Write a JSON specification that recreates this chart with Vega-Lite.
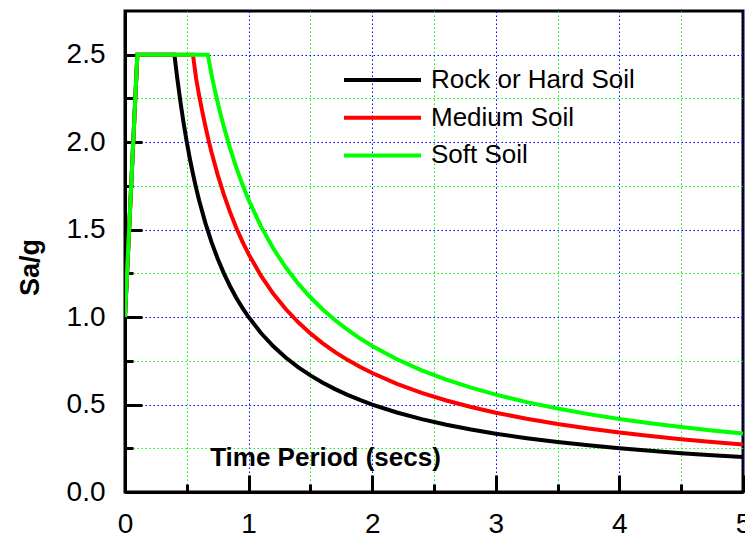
{
  "$schema": "https://vega.github.io/schema/vega-lite/v6.json",
  "width": 618,
  "height": 481,
  "autosize": {"type": "none"},
  "padding": {"left": 125, "top": 11, "right": 2, "bottom": 43},
  "background": "white",
  "config": {
    "font": "Liberation Sans",
    "view": {"stroke": "black", "strokeWidth": 3},
    "axis": {
      "domainColor": "black",
      "domainWidth": 3,
      "tickColor": "black",
      "tickWidth": 3,
      "labelFont": "Liberation Sans",
      "labelFontSize": 28,
      "labelColor": "black",
      "titleFont": "Liberation Sans",
      "titleColor": "black",
      "titleFontWeight": "bold",
      "grid": true,
      "gridWidth": 1,
      "gridDash": [1.5, 2.5],
      "labelFlush": false,
      "labelOverlap": false
    }
  },
  "data": {
    "values": [
      {"T": 0, "Sa": 1.0, "Soil": "Rock or Hard Soil"},
      {"T": 0.1, "Sa": 2.5, "Soil": "Rock or Hard Soil"},
      {"T": 0.4, "Sa": 2.5, "Soil": "Rock or Hard Soil"},
      {"T": 0.42, "Sa": 2.381, "Soil": "Rock or Hard Soil"},
      {"T": 0.45, "Sa": 2.2222, "Soil": "Rock or Hard Soil"},
      {"T": 0.475, "Sa": 2.1053, "Soil": "Rock or Hard Soil"},
      {"T": 0.5, "Sa": 2.0, "Soil": "Rock or Hard Soil"},
      {"T": 0.525, "Sa": 1.9048, "Soil": "Rock or Hard Soil"},
      {"T": 0.55, "Sa": 1.8182, "Soil": "Rock or Hard Soil"},
      {"T": 0.575, "Sa": 1.7391, "Soil": "Rock or Hard Soil"},
      {"T": 0.6, "Sa": 1.6667, "Soil": "Rock or Hard Soil"},
      {"T": 0.65, "Sa": 1.5385, "Soil": "Rock or Hard Soil"},
      {"T": 0.7, "Sa": 1.4286, "Soil": "Rock or Hard Soil"},
      {"T": 0.75, "Sa": 1.3333, "Soil": "Rock or Hard Soil"},
      {"T": 0.8, "Sa": 1.25, "Soil": "Rock or Hard Soil"},
      {"T": 0.85, "Sa": 1.1765, "Soil": "Rock or Hard Soil"},
      {"T": 0.9, "Sa": 1.1111, "Soil": "Rock or Hard Soil"},
      {"T": 0.95, "Sa": 1.0526, "Soil": "Rock or Hard Soil"},
      {"T": 1.0, "Sa": 1.0, "Soil": "Rock or Hard Soil"},
      {"T": 1.1, "Sa": 0.9091, "Soil": "Rock or Hard Soil"},
      {"T": 1.2, "Sa": 0.8333, "Soil": "Rock or Hard Soil"},
      {"T": 1.3, "Sa": 0.7692, "Soil": "Rock or Hard Soil"},
      {"T": 1.4, "Sa": 0.7143, "Soil": "Rock or Hard Soil"},
      {"T": 1.5, "Sa": 0.6667, "Soil": "Rock or Hard Soil"},
      {"T": 1.6, "Sa": 0.625, "Soil": "Rock or Hard Soil"},
      {"T": 1.7, "Sa": 0.5882, "Soil": "Rock or Hard Soil"},
      {"T": 1.8, "Sa": 0.5556, "Soil": "Rock or Hard Soil"},
      {"T": 1.9, "Sa": 0.5263, "Soil": "Rock or Hard Soil"},
      {"T": 2.0, "Sa": 0.5, "Soil": "Rock or Hard Soil"},
      {"T": 2.2, "Sa": 0.4545, "Soil": "Rock or Hard Soil"},
      {"T": 2.4, "Sa": 0.4167, "Soil": "Rock or Hard Soil"},
      {"T": 2.6, "Sa": 0.3846, "Soil": "Rock or Hard Soil"},
      {"T": 2.8, "Sa": 0.3571, "Soil": "Rock or Hard Soil"},
      {"T": 3.0, "Sa": 0.3333, "Soil": "Rock or Hard Soil"},
      {"T": 3.25, "Sa": 0.3077, "Soil": "Rock or Hard Soil"},
      {"T": 3.5, "Sa": 0.2857, "Soil": "Rock or Hard Soil"},
      {"T": 3.75, "Sa": 0.2667, "Soil": "Rock or Hard Soil"},
      {"T": 4.0, "Sa": 0.25, "Soil": "Rock or Hard Soil"},
      {"T": 4.25, "Sa": 0.2353, "Soil": "Rock or Hard Soil"},
      {"T": 4.5, "Sa": 0.2222, "Soil": "Rock or Hard Soil"},
      {"T": 4.75, "Sa": 0.2105, "Soil": "Rock or Hard Soil"},
      {"T": 5.0, "Sa": 0.2, "Soil": "Rock or Hard Soil"},
      {"T": 0, "Sa": 1.0, "Soil": "Medium Soil"},
      {"T": 0.1, "Sa": 2.5, "Soil": "Medium Soil"},
      {"T": 0.55, "Sa": 2.5, "Soil": "Medium Soil"},
      {"T": 0.575, "Sa": 2.3652, "Soil": "Medium Soil"},
      {"T": 0.6, "Sa": 2.2667, "Soil": "Medium Soil"},
      {"T": 0.625, "Sa": 2.176, "Soil": "Medium Soil"},
      {"T": 0.65, "Sa": 2.0923, "Soil": "Medium Soil"},
      {"T": 0.675, "Sa": 2.0148, "Soil": "Medium Soil"},
      {"T": 0.7, "Sa": 1.9429, "Soil": "Medium Soil"},
      {"T": 0.75, "Sa": 1.8133, "Soil": "Medium Soil"},
      {"T": 0.8, "Sa": 1.7, "Soil": "Medium Soil"},
      {"T": 0.85, "Sa": 1.6, "Soil": "Medium Soil"},
      {"T": 0.9, "Sa": 1.5111, "Soil": "Medium Soil"},
      {"T": 0.95, "Sa": 1.4316, "Soil": "Medium Soil"},
      {"T": 1.0, "Sa": 1.36, "Soil": "Medium Soil"},
      {"T": 1.1, "Sa": 1.2364, "Soil": "Medium Soil"},
      {"T": 1.2, "Sa": 1.1333, "Soil": "Medium Soil"},
      {"T": 1.3, "Sa": 1.0462, "Soil": "Medium Soil"},
      {"T": 1.4, "Sa": 0.9714, "Soil": "Medium Soil"},
      {"T": 1.5, "Sa": 0.9067, "Soil": "Medium Soil"},
      {"T": 1.6, "Sa": 0.85, "Soil": "Medium Soil"},
      {"T": 1.7, "Sa": 0.8, "Soil": "Medium Soil"},
      {"T": 1.8, "Sa": 0.7556, "Soil": "Medium Soil"},
      {"T": 1.9, "Sa": 0.7158, "Soil": "Medium Soil"},
      {"T": 2.0, "Sa": 0.68, "Soil": "Medium Soil"},
      {"T": 2.2, "Sa": 0.6182, "Soil": "Medium Soil"},
      {"T": 2.4, "Sa": 0.5667, "Soil": "Medium Soil"},
      {"T": 2.6, "Sa": 0.5231, "Soil": "Medium Soil"},
      {"T": 2.8, "Sa": 0.4857, "Soil": "Medium Soil"},
      {"T": 3.0, "Sa": 0.4533, "Soil": "Medium Soil"},
      {"T": 3.25, "Sa": 0.4185, "Soil": "Medium Soil"},
      {"T": 3.5, "Sa": 0.3886, "Soil": "Medium Soil"},
      {"T": 3.75, "Sa": 0.3627, "Soil": "Medium Soil"},
      {"T": 4.0, "Sa": 0.34, "Soil": "Medium Soil"},
      {"T": 4.25, "Sa": 0.32, "Soil": "Medium Soil"},
      {"T": 4.5, "Sa": 0.3022, "Soil": "Medium Soil"},
      {"T": 4.75, "Sa": 0.2863, "Soil": "Medium Soil"},
      {"T": 5.0, "Sa": 0.272, "Soil": "Medium Soil"},
      {"T": 0, "Sa": 1.0, "Soil": "Soft Soil"},
      {"T": 0.1, "Sa": 2.5, "Soil": "Soft Soil"},
      {"T": 0.67, "Sa": 2.5, "Soil": "Soft Soil"},
      {"T": 0.7, "Sa": 2.3857, "Soil": "Soft Soil"},
      {"T": 0.725, "Sa": 2.3034, "Soil": "Soft Soil"},
      {"T": 0.75, "Sa": 2.2267, "Soil": "Soft Soil"},
      {"T": 0.775, "Sa": 2.1548, "Soil": "Soft Soil"},
      {"T": 0.8, "Sa": 2.0875, "Soil": "Soft Soil"},
      {"T": 0.85, "Sa": 1.9647, "Soil": "Soft Soil"},
      {"T": 0.9, "Sa": 1.8556, "Soil": "Soft Soil"},
      {"T": 0.95, "Sa": 1.7579, "Soil": "Soft Soil"},
      {"T": 1.0, "Sa": 1.67, "Soil": "Soft Soil"},
      {"T": 1.1, "Sa": 1.5182, "Soil": "Soft Soil"},
      {"T": 1.2, "Sa": 1.3917, "Soil": "Soft Soil"},
      {"T": 1.3, "Sa": 1.2846, "Soil": "Soft Soil"},
      {"T": 1.4, "Sa": 1.1929, "Soil": "Soft Soil"},
      {"T": 1.5, "Sa": 1.1133, "Soil": "Soft Soil"},
      {"T": 1.6, "Sa": 1.0438, "Soil": "Soft Soil"},
      {"T": 1.7, "Sa": 0.9824, "Soil": "Soft Soil"},
      {"T": 1.8, "Sa": 0.9278, "Soil": "Soft Soil"},
      {"T": 1.9, "Sa": 0.8789, "Soil": "Soft Soil"},
      {"T": 2.0, "Sa": 0.835, "Soil": "Soft Soil"},
      {"T": 2.2, "Sa": 0.7591, "Soil": "Soft Soil"},
      {"T": 2.4, "Sa": 0.6958, "Soil": "Soft Soil"},
      {"T": 2.6, "Sa": 0.6423, "Soil": "Soft Soil"},
      {"T": 2.8, "Sa": 0.5964, "Soil": "Soft Soil"},
      {"T": 3.0, "Sa": 0.5567, "Soil": "Soft Soil"},
      {"T": 3.25, "Sa": 0.5138, "Soil": "Soft Soil"},
      {"T": 3.5, "Sa": 0.4771, "Soil": "Soft Soil"},
      {"T": 3.75, "Sa": 0.4453, "Soil": "Soft Soil"},
      {"T": 4.0, "Sa": 0.4175, "Soil": "Soft Soil"},
      {"T": 4.25, "Sa": 0.3929, "Soil": "Soft Soil"},
      {"T": 4.5, "Sa": 0.3711, "Soil": "Soft Soil"},
      {"T": 4.75, "Sa": 0.3516, "Soil": "Soft Soil"},
      {"T": 5.0, "Sa": 0.334, "Soil": "Soft Soil"}
    ]
  },
  "resolve": {"axis": {"x": "independent", "y": "independent"}},
  "layer": [
    {
      "mark": {"type": "line", "opacity": 0, "clip": true},
      "encoding": {
        "x": {
          "field": "T",
          "type": "quantitative",
          "scale": {"domain": [0, 5], "nice": false, "zero": false},
          "axis": {
            "orient": "bottom",
            "values": [0.5, 1.5, 2.5, 3.5, 4.5],
            "labels": false,
            "domain": false,
            "grid": true,
            "tickSize": -8,
            "gridColor": "#00ff00",
            "title": null
          }
        },
        "y": {
          "field": "Sa",
          "type": "quantitative",
          "scale": {"domain": [0, 2.75], "nice": false, "zero": false},
          "axis": {
            "orient": "left",
            "values": [0.25, 0.75, 1.25, 1.75, 2.25],
            "labels": false,
            "domain": false,
            "grid": true,
            "tickSize": -8,
            "gridColor": "#00ff00",
            "title": null
          }
        },
        "detail": {"field": "Soil"}
      }
    },
    {
      "mark": {"type": "line", "strokeWidth": 4, "clip": true},
      "encoding": {
        "x": {
          "field": "T",
          "type": "quantitative",
          "axis": {
            "orient": "bottom",
            "values": [0, 1, 2, 3, 4, 5],
            "format": "d",
            "grid": true,
            "tickSize": -17,
            "gridColor": "#0000ff",
            "labelPadding": 35,
            "labelBaseline": "top",
            "title": "Time Period (secs)",
            "titleFontSize": 26,
            "titleX": 200,
            "titleY": -27,
            "titleAlign": "center",
            "titleBaseline": "alphabetic",
            "titleAnchor": null
          }
        },
        "y": {
          "field": "Sa",
          "type": "quantitative",
          "axis": {
            "orient": "left",
            "values": [0, 0.5, 1, 1.5, 2, 2.5],
            "format": ".1f",
            "grid": true,
            "tickSize": -17,
            "gridColor": "#0000ff",
            "labelPadding": 37,
            "title": "Sa/g",
            "titleFontSize": 27,
            "titleAngle": -90,
            "titleX": -87,
            "titleY": 256,
            "titleAlign": "center",
            "titleBaseline": "alphabetic",
            "titleAnchor": null
          }
        },
        "color": {
          "field": "Soil",
          "type": "nominal",
          "scale": {
            "domain": ["Rock or Hard Soil", "Medium Soil", "Soft Soil"],
            "range": ["#000000", "#ff0000", "#00ff00"]
          },
          "legend": {
            "orient": "none",
            "legendX": 217,
            "legendY": 51,
            "title": null,
            "symbolType": "stroke",
            "symbolSize": 5929,
            "symbolStrokeWidth": 4,
            "labelFontSize": 26,
            "labelFont": "Liberation Sans",
            "labelColor": "black",
            "labelOffset": 8,
            "labelLimit": 400,
            "clipHeight": 36,
            "rowPadding": 1.7,
            "padding": 0
          }
        }
      }
    }
  ]
}
